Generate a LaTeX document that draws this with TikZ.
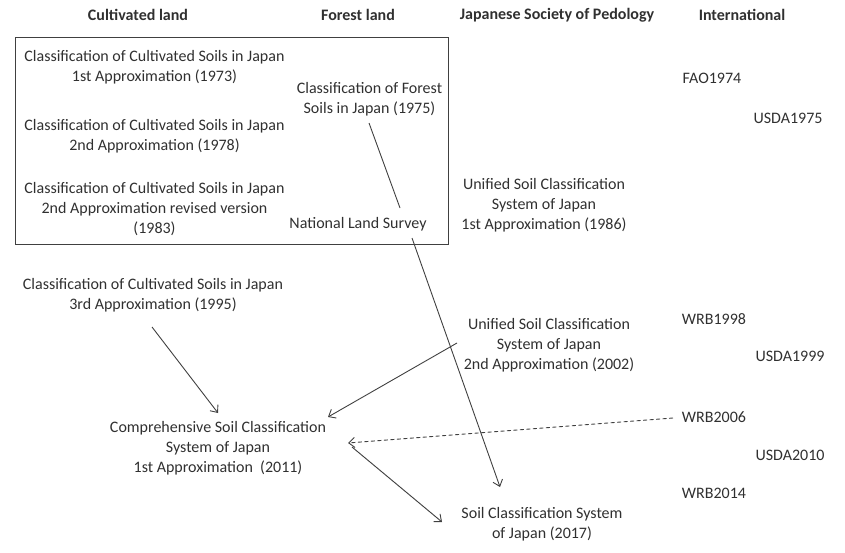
\documentclass[tikz,border=0pt]{standalone}
\usepackage{fontspec}
\setmainfont{Carlito}
\usetikzlibrary{arrows.meta}
\definecolor{txt}{HTML}{303030}
\definecolor{ln}{HTML}{404040}
\begin{document}
\begin{tikzpicture}[x=1pt,y=1pt,
  lbl/.style={inner sep=0pt,align=center,text=txt,font=\fontsize{16}{20}\selectfont},
  hdr/.style={inner sep=0pt,text=txt,font=\fontsize{16}{18}\selectfont\bfseries},
  conn/.style={draw=ln,line width=0.9pt},
  arr/.style={conn,-{Straight Barb[length=6pt,width=10pt,line width=0.9pt]}},
  darr/.style={arr,dashed,dash pattern=on 4pt off 2.5pt}]
\useasboundingbox (0,0) rectangle (845,-553);
% headers
\node[hdr] (h1) at (138,-15) {Cultivated land};
\node[hdr] (h2) at (358,-15) {Forest land};
\node[hdr] (h3) at (557,-15) {Japanese Society of Pedology};
\node[hdr] (h4) at (742,-15) {International};
% box
\draw[draw=ln,line width=0.9pt] (15,-37) rectangle (448,-244);
% cultivated
\node[lbl] (c1973) at (154.5,-67.5) {Classification of Cultivated Soils in Japan\\1st Approximation (1973)};
\node[lbl] (c1978) at (154.5,-136) {Classification of Cultivated Soils in Japan\\2nd Approximation (1978)};
\node[lbl] (c1983) at (154.5,-209.5) {Classification of Cultivated Soils in Japan\\2nd Approximation revised version\\(1983)};
\node[lbl] (c1995) at (153,-295) {Classification of Cultivated Soils in Japan\\3rd Approximation (1995)};
\node[lbl] (comp) at (218,-448) {Comprehensive Soil Classification\\System of Japan\\1st Approximation\ \ (2011)};
% forest
\node[lbl] (f1975) at (369.5,-99) {Classification of Forest\\Soils in Japan (1975)};
\node[lbl] (nls) at (358,-224) {National Land Survey};
% JSP
\node[lbl] (u1986) at (544,-205) {Unified Soil Classification\\System of Japan\\1st Approximation (1986)};
\node[lbl] (u2002) at (549,-345) {Unified Soil Classification\\System of Japan\\2nd Approximation (2002)};
\node[lbl] (s2017) at (542,-524) {Soil Classification System\\of Japan (2017)};
% international
\node[lbl] (fao) at (712,-78) {FAO1974};
\node[lbl] (usda75) at (788,-118) {USDA1975};
\node[lbl] (wrb98) at (714,-319) {WRB1998};
\node[lbl] (usda99) at (790,-356) {USDA1999};
\node[lbl] (wrb06) at (714,-417) {WRB2006};
\node[lbl] (usda10) at (790,-455) {USDA2010};
\node[lbl] (wrb14) at (714,-493) {WRB2014};
% connectors
\draw[conn] ([shift={(-0.5,-24)}]f1975.center) -- ([shift={(42,16)}]nls.center);
\draw[arr] ([shift={(54,-14)}]nls.center) -- ([shift={(-42,37)}]s2017.center);
\draw[arr] ([shift={(-1,-32)}]c1995.center) -- ([shift={(0,35)}]comp.center);
\draw[arr] ([shift={(-92,2)}]u2002.center) -- ([shift={(110,31)}]comp.center);
\draw[darr] ([shift={(-41,-1)}]wrb06.center) -- ([shift={(130,5)}]comp.center);
\draw[arr] ([shift={(134,1)}]comp.center) -- ([shift={(-100,2)}]s2017.center);
\end{tikzpicture}
\end{document}
